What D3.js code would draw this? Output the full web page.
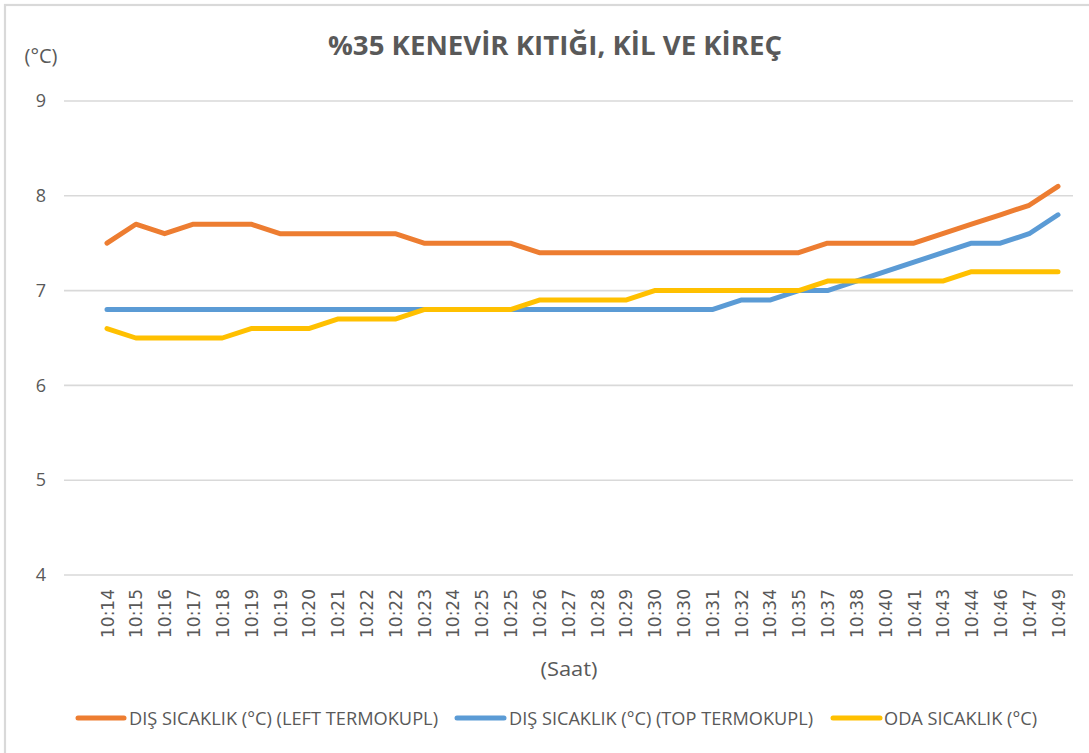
<!DOCTYPE html>
<html>
<head>
<meta charset="utf-8">
<script src="https://cdn.jsdelivr.net/npm/d3@7"></script>
<style>
  html, body { margin: 0; padding: 0; background: #fff; }
  svg { display: block; }
</style>
</head>
<body>
<svg id="chart" width="1089" height="753"></svg>
<script>
const categories = ["10:14","10:15","10:16","10:17","10:18","10:19","10:19","10:20","10:21","10:22","10:22","10:23","10:24","10:25","10:25","10:26","10:27","10:28","10:29","10:30","10:30","10:31","10:32","10:34","10:35","10:37","10:38","10:40","10:41","10:43","10:44","10:46","10:47","10:49"];
const leftTermokupl = [7.5,7.7,7.6,7.7,7.7,7.7,7.6,7.6,7.6,7.6,7.6,7.5,7.5,7.5,7.5,7.4,7.4,7.4,7.4,7.4,7.4,7.4,7.4,7.4,7.4,7.5,7.5,7.5,7.5,7.6,7.7,7.8,7.9,8.1];
const topTermokupl = [6.8,6.8,6.8,6.8,6.8,6.8,6.8,6.8,6.8,6.8,6.8,6.8,6.8,6.8,6.8,6.8,6.8,6.8,6.8,6.8,6.8,6.8,6.9,6.9,7.0,7.0,7.1,7.2,7.3,7.4,7.5,7.5,7.6,7.8];
const odaSicaklik = [6.6,6.5,6.5,6.5,6.5,6.6,6.6,6.6,6.7,6.7,6.7,6.8,6.8,6.8,6.8,6.9,6.9,6.9,6.9,7.0,7.0,7.0,7.0,7.0,7.0,7.1,7.1,7.1,7.1,7.1,7.2,7.2,7.2,7.2];
const seriesNames = ["DIŞ SICAKLIK (°C) (LEFT TERMOKUPL)","DIŞ SICAKLIK (°C) (TOP TERMOKUPL)","ODA SICAKLIK (°C)"];
const seriesColors = ["#ED7D31","#5B9BD5","#FFC000"];
const yTicks = [4,5,6,7,8,9];
const title = "%35 KENEVİR KITIĞI, KİL VE KİREÇ";
const yTitle = "(°C)";
const xTitle = "(Saat)";

const series = [leftTermokupl, topTermokupl, odaSicaklik];
const svg = d3.select("#chart");
const textColor = "#595959";
const font = "'Open Sans', sans-serif";

// outer frame
svg.append("rect").attr("x",5).attr("y",5).attr("width",1200).attr("height",900)
  .attr("fill","none").attr("stroke","#d9d9d9").attr("stroke-width",2.2);

const x = d3.scalePoint().domain(d3.range(categories.length)).range([107, 1058]);
const y = d3.scaleLinear().domain([4, 9]).range([575, 101]);
const gridX0 = 64, gridX1 = 1073;

// gridlines
svg.append("g").selectAll("line").data(yTicks).join("line")
  .attr("x1", gridX0).attr("x2", gridX1)
  .attr("y1", d => y(d)).attr("y2", d => y(d))
  .attr("stroke", "#d9d9d9").attr("stroke-width", 1.6);

// y axis labels
const yAxis = d3.axisLeft(y).tickValues(yTicks).tickSize(0).tickPadding(0).tickFormat(d3.format("d"));
const yg = svg.append("g").attr("transform", "translate(46,0)").call(yAxis);
yg.select(".domain").remove();
yg.selectAll("text").attr("fill", textColor).style("font-family", font).style("font-size", "18px");

// x axis labels
const xAxis = d3.axisBottom(x).tickSize(0).tickFormat(i => categories[i]);
const xg = svg.append("g").attr("transform", "translate(0,589)").call(xAxis);
xg.select(".domain").remove();
xg.selectAll("text")
  .attr("transform", "rotate(-90)")
  .attr("x", 0).attr("y", 0).attr("dy", "0.36em")
  .attr("text-anchor", "end")
  .attr("fill", textColor)
  .style("font-family", "'DejaVu Sans', sans-serif")
  .style("font-size", "17px");

// lines
const line = d3.line().x((d, i) => x(i)).y(d => y(d));
svg.append("g").selectAll("path").data(series).join("path")
  .attr("d", d => line(d))
  .attr("fill", "none")
  .attr("stroke", (d, i) => seriesColors[i])
  .attr("stroke-width", 5)
  .attr("stroke-linejoin", "round")
  .attr("stroke-linecap", "round");

// title
svg.append("text").attr("x", 555).attr("y", 55).attr("text-anchor", "middle")
  .attr("fill", textColor).style("font-family", font).style("font-weight", "bold")
  .style("font-size", "26px").attr("textLength", 454).attr("lengthAdjust", "spacingAndGlyphs")
  .text(title);

// axis titles
svg.append("text").attr("x", 41).attr("y", 63).attr("text-anchor", "middle")
  .attr("fill", textColor).style("font-family", font).style("font-size", "20px")
  .attr("textLength", 33).attr("lengthAdjust", "spacingAndGlyphs").text(yTitle);
svg.append("text").attr("x", 569).attr("y", 676).attr("text-anchor", "middle")
  .attr("fill", textColor).style("font-family", font).style("font-size", "20px")
  .attr("textLength", 57).attr("lengthAdjust", "spacingAndGlyphs").text(xTitle);

// legend
const legendSwatch = [[78,124],[457,504],[833,880]];
const legendTextX = [129, 509, 884];
const legendTextW = [309, 304, 153];
const lg = svg.append("g");
seriesNames.forEach((name, i) => {
  lg.append("line").attr("x1", legendSwatch[i][0]).attr("x2", legendSwatch[i][1])
    .attr("y1", 718).attr("y2", 718)
    .attr("stroke", seriesColors[i]).attr("stroke-width", 5).attr("stroke-linecap", "round");
  lg.append("text").attr("x", legendTextX[i]).attr("y", 724.5)
    .attr("fill", textColor).style("font-family", font).style("font-size", "18.5px")
    .attr("textLength", legendTextW[i]).attr("lengthAdjust", "spacingAndGlyphs")
    .text(name);
});
</script>
</body>
</html>
